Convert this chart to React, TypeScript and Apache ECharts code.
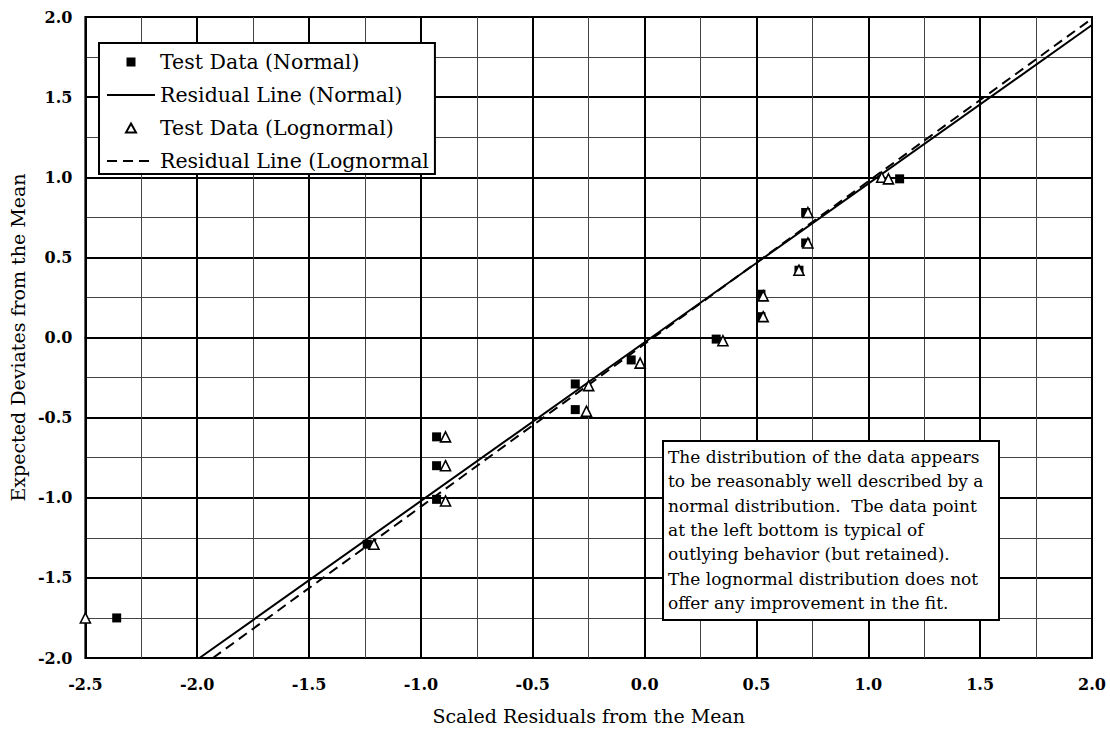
import React, { useEffect, useRef } from "react";
import * as echarts from "echarts";

const xTickLabels = ["-2.5", "-2.0", "-1.5", "-1.0", "-0.5", "0.0", "0.5", "1.0", "1.5", "2.0"];
const yTickLabels = ["-2.0", "-1.5", "-1.0", "-0.5", "0.0", "0.5", "1.0", "1.5", "2.0"];

const normalX = [-2.36, -1.24, -0.93, -0.93, -0.93, -0.31, -0.31, -0.06, 0.32, 0.52, 0.52, 0.69, 0.72, 0.72, 1.14];
const normalY = [-1.75, -1.29, -1.01, -0.8, -0.62, -0.45, -0.29, -0.14, -0.01, 0.13, 0.27, 0.42, 0.59, 0.78, 0.99];

const lognX = [-2.5, -1.21, -0.89, -0.89, -0.89, -0.26, -0.25, -0.02, 0.35, 0.53, 0.53, 0.69, 0.73, 0.73, 1.06, 1.09];
const lognY = [-1.75, -1.29, -1.02, -0.8, -0.62, -0.46, -0.3, -0.16, -0.02, 0.13, 0.26, 0.42, 0.59, 0.78, 1.0, 0.99];

const normalLineX = [-1.99, 2.0];
const normalLineY = [-2.0, 1.95];
const lognLineX = [-1.93, 2.0];
const lognLineY = [-2.0, 1.99];

const seriesNames = [
  "Test Data (Normal)",
  "Residual Line (Normal)",
  "Test Data (Lognormal)",
  "Residual Line (Lognormal",
];

const noteLines = [
  "The distribution of the data appears",
  "to be reasonably well described by a",
  "normal distribution.  Tbe data point",
  "at the left bottom is typical of",
  "outlying behavior (but retained).",
  "The lognormal distribution does not",
  "offer any improvement in the fit.",
];

const FONT = "DejaVu Serif";
const SQUARE_ICON = "path://M0,0L10,0L10,10L0,10Z";
const TRIANGLE_ICON = "path://M5,0L10,9L0,9Z";

export default function App() {
  const ref = useRef<HTMLDivElement>(null);
  useEffect(() => {
    if (!ref.current) return;
    const chart = echarts.init(ref.current, null, { renderer: "svg" });
    const pair = (xs: number[], ys: number[]) => xs.map((x, i) => [x, ys[i]]);
    const fmt = (labels: string[]) => (v: number) => {
      const hit = labels.find((l) => Math.abs(parseFloat(l) - v) < 1e-6);
      return hit ?? v.toFixed(1);
    };
    const axisCommon = {
      type: "value" as const,
      interval: 0.5,
      axisLine: { show: true, lineStyle: { color: "#000", width: 2 } },
      axisTick: { show: true, length: 6, lineStyle: { color: "#000", width: 2 } },
      splitLine: { show: true, lineStyle: { color: "#000", width: 2 } },
      minorTick: { show: false, splitNumber: 2 },
      minorSplitLine: { show: true, lineStyle: { color: "#444", width: 1 } },
      nameLocation: "middle" as const,
      nameTextStyle: { fontFamily: FONT, fontSize: 19, color: "#000" },
    };
    const labelStyle = {
      fontFamily: FONT,
      fontSize: 16,
      fontWeight: "bold" as const,
      color: "#000",
    };
    chart.setOption({
      animation: false,
      backgroundColor: "#fff",
      textStyle: { fontFamily: FONT },
      grid: {
        left: 85,
        top: 17,
        width: 1007,
        height: 641,
        show: true,
        borderColor: "#000",
        borderWidth: 2,
        backgroundColor: "transparent",
      },
      xAxis: {
        ...axisCommon,
        min: -2.5,
        max: 2.0,
        name: "Scaled Residuals from the Mean",
        nameGap: 48,
        axisLabel: { ...labelStyle, margin: 18, formatter: fmt(xTickLabels) },
      },
      yAxis: {
        ...axisCommon,
        min: -2.0,
        max: 2.0,
        name: "Expected Deviates from the Mean",
        nameGap: 58,
        axisLabel: { ...labelStyle, margin: 13, formatter: fmt(yTickLabels) },
      },
      legend: {
        orient: "vertical",
        left: 99,
        top: 43,
        itemWidth: 48,
        itemHeight: 9,
        itemGap: 11,
        padding: [8, 6, 2, 7],
        borderColor: "#000",
        borderWidth: 2,
        backgroundColor: "#fff",
        selectedMode: false,
        symbolKeepAspect: true,
        textStyle: { fontFamily: FONT, fontSize: 20.5, color: "#000", lineHeight: 22 },
        data: [
          { name: seriesNames[0], icon: SQUARE_ICON },
          { name: seriesNames[1], itemStyle: { opacity: 0 } },
          { name: seriesNames[2], icon: TRIANGLE_ICON },
          { name: seriesNames[3], itemStyle: { opacity: 0 } },
        ],
      },
      series: [
        {
          name: seriesNames[0],
          type: "scatter",
          symbol: "rect",
          symbolSize: 9,
          itemStyle: { color: "#000", opacity: 1 },
          data: pair(normalX, normalY),
          z: 3,
        },
        {
          name: seriesNames[1],
          type: "line",
          symbol: "none",
          lineStyle: { color: "#000", width: 2 },
          itemStyle: { color: "#000" },
          data: pair(normalLineX, normalLineY),
          z: 4,
        },
        {
          name: seriesNames[2],
          type: "scatter",
          symbol: "triangle",
          symbolSize: 10,
          itemStyle: { color: "#fff", borderColor: "#000", borderWidth: 1.6, opacity: 1 },
          data: pair(lognX, lognY),
          z: 5,
        },
        {
          name: seriesNames[3],
          type: "line",
          symbol: "none",
          lineStyle: { color: "#000", width: 2, type: [10, 6] },
          itemStyle: { color: "#000" },
          data: pair(lognLineX, lognLineY),
          z: 4,
        },
      ],
      graphic: [
        {
          type: "group",
          left: 662,
          top: 440,
          z: 100,
          children: [
            {
              type: "rect",
              z: 100,
              shape: { x: 0, y: 0, width: 336, height: 179 },
              style: { fill: "#fff", stroke: "#000", lineWidth: 2 },
            },
            {
              type: "text",
              z: 101,
              x: 5,
              y: 4,
              style: {
                text: noteLines.join("\n"),
                font: `17px "${FONT}"`,
                lineHeight: 24.3,
                fill: "#000",
              },
            },
          ],
        },
      ],
    });
    return () => chart.dispose();
  }, []);
  return (
    <div
      ref={ref}
      style={{ position: "fixed", left: 0, top: 0, width: 1110, height: 735, background: "#fff" }}
    />
  );
}
